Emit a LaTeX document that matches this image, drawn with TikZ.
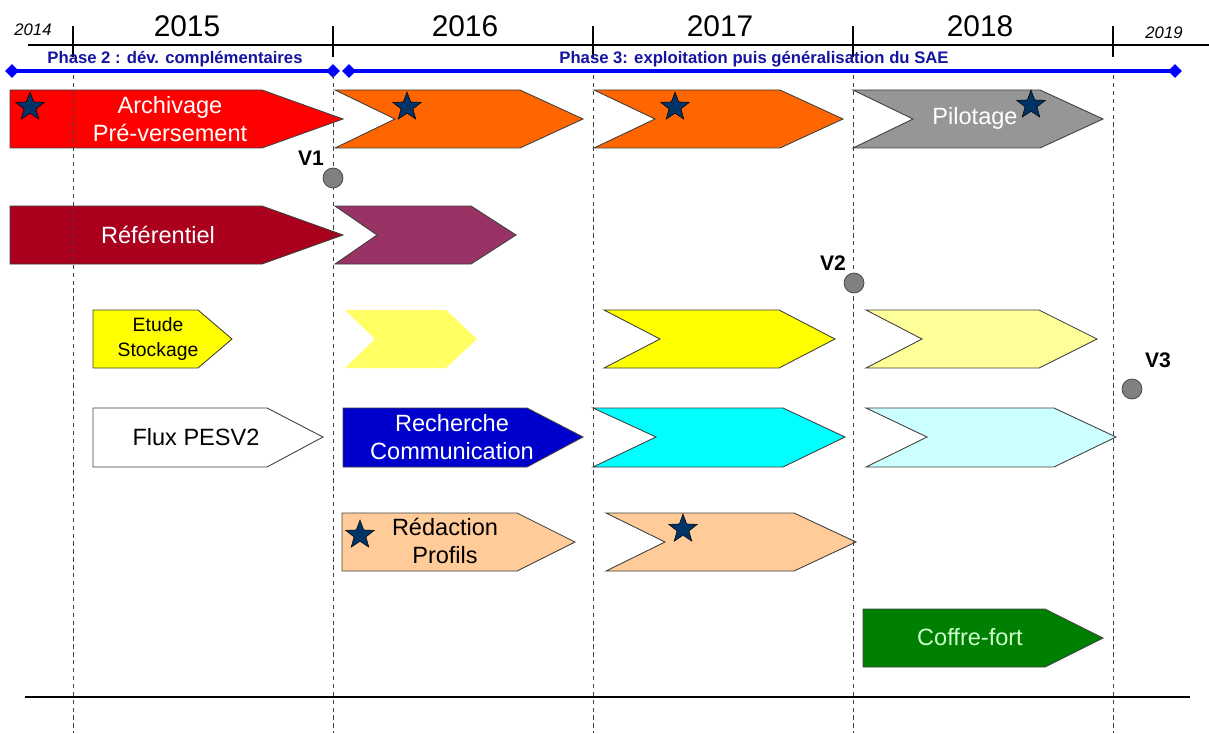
\documentclass[tikz,border=0pt]{standalone}
\usepackage{fontspec}
\setmainfont{Liberation Sans}
\usetikzlibrary{shapes.geometric}
\definecolor{SaeEdge}{RGB}{64,64,64}
\definecolor{SaeRed}{RGB}{255,0,0}
\definecolor{SaeCrimson}{RGB}{170,0,30}
\definecolor{SaeOrange}{RGB}{255,102,0}
\definecolor{SaeGrey}{RGB}{150,150,150}
\definecolor{SaePlum}{RGB}{153,51,102}
\definecolor{SaeYellow}{RGB}{255,255,0}
\definecolor{SaeYellowA}{RGB}{255,255,100}
\definecolor{SaeYellowB}{RGB}{255,255,153}
\definecolor{SaeCyan}{RGB}{0,255,255}
\definecolor{SaeCyanB}{RGB}{204,255,255}
\definecolor{SaeBlue}{RGB}{0,0,204}
\definecolor{SaePeach}{RGB}{255,204,153}
\definecolor{SaeGreen}{RGB}{0,128,0}
\definecolor{SaeMint}{RGB}{204,255,204}
\definecolor{SaeNavy}{RGB}{0,51,102}
\definecolor{SaePhase}{RGB}{20,20,160}
\definecolor{SaeLine}{RGB}{0,0,255}

\begin{document}
\begin{tikzpicture}[x=0.02cm,y=-0.02cm]
  \tikzset{bar/.style={draw=SaeEdge,line width=0.5pt},
    lbl/.style={text=white,align=center,inner sep=0pt,font=\fontsize{13.4}{16}\selectfont},
    yr/.style={inner sep=0pt,font=\fontsize{17}{20}\selectfont},
    yrsmall/.style={inner sep=0pt,font=\fontsize{9.5}{11}\selectfont\itshape},
    phs/.style={inner sep=0pt,text=SaePhase,font=\fontsize{9.5}{11}\selectfont\bfseries},
    bout/.style={diamond,fill=SaeLine,inner sep=0pt,minimum size=0.28cm},
    jalon/.style={circle,fill=SaeGrey!85!black,draw=SaeEdge,line width=0.4pt,inner sep=0pt,minimum width=0.36cm,minimum height=0.4cm},
    vlbl/.style={inner sep=0pt,font=\fontsize{12}{14}\selectfont\bfseries},
    etoile/.style={star,star points=5,star point ratio=2.4,fill=SaeNavy,draw=black,line width=0.3pt,inner sep=0pt,minimum size=0.6cm}}
  \useasboundingbox (0,0) rectangle (1209,733);
  % frise
  \draw[line width=1.6pt] (28,45) -- (1209,45);
  \foreach \x in {73,333,593,853,1113}
    \draw[line width=1.6pt] (\x,26) -- (\x,57);
  \node[yrsmall] (y14) at (33,30) {2014};
  \node[yr] (y15) at (187,26) {2015};
  \node[yr] (y16) at (465,26) {2016};
  \node[yr] (y17) at (720,26) {2017};
  \node[yr] (y18) at (980,26) {2018};
  \node[yrsmall] (y19) at (1164,33) {2019};
  % phases
  \node[bout] (p2a) at (12,71) {};
  \node[bout] (p2b) at (333,71) {};
  \node[bout] (p3a) at (349,71) {};
  \node[bout] (p3b) at (1175,71) {};
  \draw[SaeLine,line width=1.8pt] (p2a.center) -- (p2b.center);
  \draw[SaeLine,line width=1.8pt] (p3a.center) -- (p3b.center);
  \node[phs] (ph2) at (175,59) {Phase 2 : dév. complémentaires};
  \node[phs] (ph3) at (754,59) {Phase 3: exploitation puis généralisation du SAE};
  % ligne 1
  \filldraw[bar,fill=SaeRed] (10,90) -- (262,90) -- (343,119) -- (262,148) -- (10,148) -- cycle;
  \filldraw[bar,fill=SaeOrange] (335,90) -- (520,90) -- (583,119) -- (520,148) -- (335,148) -- (395,119) -- cycle;
  \filldraw[bar,fill=SaeOrange] (594,90) -- (780,90) -- (843,119) -- (780,148) -- (594,148) -- (655,119) -- cycle;
  \filldraw[bar,fill=SaeGrey] (853,90) -- (1040,90) -- (1103,119) -- (1040,148) -- (853,148) -- (913,119) -- cycle;
  % ligne 2
  \filldraw[bar,fill=SaeCrimson] (10,206) -- (262,206) -- (343,235) -- (262,264) -- (10,264) -- cycle;
  \filldraw[bar,fill=SaePlum] (335,206) -- (471,206) -- (516,235) -- (471,264) -- (335,264) -- (377,235) -- cycle;
  % ligne 3
  \filldraw[bar,fill=SaeYellow] (93,310) -- (198,310) -- (232,339) -- (198,368) -- (93,368) -- cycle;
  \fill[SaeYellowA] (345,310) -- (446,310) -- (477,339) -- (446,368) -- (345,368) -- (375,339) -- cycle;
  \filldraw[bar,fill=SaeYellow] (604,310) -- (779,310) -- (835,339) -- (779,368) -- (604,368) -- (660,339) -- cycle;
  \filldraw[bar,fill=SaeYellowB] (866,310) -- (1039,310) -- (1097,339) -- (1039,368) -- (866,368) -- (922,339) -- cycle;
  % ligne 4
  \filldraw[bar,fill=white] (93,408) -- (267,408) -- (323,437) -- (267,467) -- (93,467) -- cycle;
  \filldraw[bar,fill=SaeBlue] (343,408) -- (527,408) -- (583,437) -- (527,467) -- (343,467) -- cycle;
  \filldraw[bar,fill=SaeCyan] (593,408) -- (783,408) -- (845,437) -- (783,467) -- (593,467) -- (656,437) -- cycle;
  \filldraw[bar,fill=SaeCyanB] (866,408) -- (1054,408) -- (1116,437) -- (1054,467) -- (866,467) -- (927,437) -- cycle;
  % ligne 5 et 6
  \filldraw[bar,fill=SaePeach] (342,513) -- (517,513) -- (575,542) -- (517,571) -- (342,571) -- cycle;
  \filldraw[bar,fill=SaePeach] (606,513) -- (794,513) -- (856,542) -- (794,571) -- (606,571) -- (665,542) -- cycle;
  \filldraw[bar,fill=SaeGreen] (863,609) -- (1045,609) -- (1103,638) -- (1045,667) -- (863,667) -- cycle;
  % annees
  \foreach \x in {73,333,593,853,1113}
    \draw[SaeEdge,line width=0.5pt,dash pattern=on 2.5pt off 2pt] (\x,75) -- (\x,733);
  \draw[line width=0.6pt] (25,697) -- (1190,697);
  % textes
  \node[lbl] (archi) at (170,119) {Archivage\\Pré-versement};
  \node[lbl] (pilot) at (975,118) {Pilotage};
  \node[lbl] (refer) at (158,235) {Référentiel};
  \node[lbl,text=black,font=\fontsize{11}{14.5}\selectfont] (etude) at (158,339) {Etude\\Stockage};
  \node[lbl,text=black] (flux) at (196,437) {Flux PESV2};
  \node[lbl] (rech) at (452,437) {Recherche\\Communication};
  \node[lbl,text=black] (redac) at (445,541) {Rédaction\\Profils};
  \node[lbl,text=SaeMint] (coffre) at (970,637) {Coffre-fort};
  % etoiles
  \node[etoile] (s1) at (30,107) {};
  \node[etoile] (s2) at (407,107) {};
  \node[etoile] (s3) at (675,107) {};
  \node[etoile] (s4) at (1031,105) {};
  \node[etoile] (s5) at (360,535) {};
  \node[etoile] (s6) at (683,529) {};
  % versions
  \node[jalon] (v1) at (333,178) {};
  \node[jalon] (v2) at (854,283) {};
  \node[jalon] (v3) at (1132,389) {};
  \node[vlbl] (v1l) at (311,158) {V1};
  \node[vlbl] (v2l) at (833,263) {V2};
  \node[vlbl] (v3l) at (1158,360) {V3};
\end{tikzpicture}
\end{document}
